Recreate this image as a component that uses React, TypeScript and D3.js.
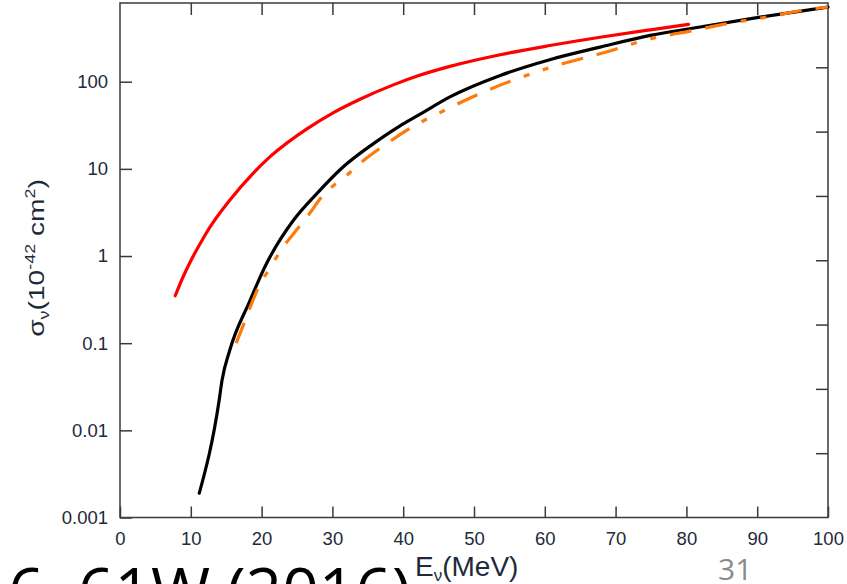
import React, { useEffect, useRef } from "react";
import * as d3 from "d3";

// Axis ticks
const energyTicks = [0, 10, 20, 30, 40, 50, 60, 70, 80, 90, 100];
const sigmaTicks = [0.001, 0.01, 0.1, 1, 10, 100];
const sigmaTickLabels = ["0.001", "0.01", "0.1", "1", "10", "100"];
const rightTicks = [1, 2, 3, 4, 5, 6, 7];

// Cross sections, sigma in 1e-42 cm^2 versus neutrino energy in MeV
const redEnergy = [7.8, 8.9, 9.9, 11.8, 12.7, 15.5, 18.8, 21.2, 26.4, 30.1, 33.9, 38.6, 42.1, 46.6, 53.7, 60.7, 67.8, 74.9, 80.3];
const redSigma = [0.35, 0.575, 0.85, 1.62, 2.14, 4.37, 8.9, 13.8, 28.8, 44, 63, 92, 117, 150, 204, 260, 324, 394, 454];

const blackEnergy = [11.2, 14.0, 14.4, 15.5, 18.3, 20.7, 21.2, 24.5, 27.8, 31.5, 35.8, 39.5, 42.1, 46.6, 53.7, 60.7, 67.8, 74.9, 80.0, 90.4, 100];
const blackSigma = [0.0019, 0.022, 0.037, 0.083, 0.3, 0.82, 0.98, 2.57, 5.2, 10.5, 19.5, 31, 41, 67, 118, 179, 249, 340, 400, 550, 717];

const orangeEnergy = [16.4, 17.65, 18.4, 19.8, 21.2, 22.7, 24.7, 26.4, 28.7, 32.0, 34.4, 37.7, 41.2, 46.1, 50.8, 57.4, 61.7, 68.7, 74.4, 81.0, 85.2, 91.3, 97.9, 100];
const orangeSigma = [0.1, 0.18, 0.26, 0.48, 0.73, 1.16, 1.89, 2.8, 5.0, 8.4, 12.5, 19.5, 30, 48, 73, 118, 154, 219, 303, 387, 454, 551, 687, 720];

const W = 847;
const H = 584;
const plot = { left: 120, right: 828, top: 3, bottom: 517.5 };
const tickFont = "'Liberation Sans', Arial, sans-serif";

export default function App() {
  const ref = useRef<SVGSVGElement>(null);

  useEffect(() => {
    const svg = d3.select(ref.current);
    svg.selectAll("*").remove();

    const x = d3.scaleLinear().domain([0, 100]).range([plot.left, plot.right]);
    const y = d3.scaleLog().domain([0.001, 800]).range([plot.bottom, plot.top]);
    const yRight = d3.scaleLinear().domain([0, 8]).range([plot.bottom, plot.top]);

    svg.append("rect").attr("width", W).attr("height", H).attr("fill", "#fff");

    const styleAxis = (g: d3.Selection<SVGGElement, unknown, null, undefined>) => {
      g.select(".domain").remove();
      g.selectAll(".tick line").attr("stroke", "#3a3a3a").attr("stroke-width", 1.5);
      g.selectAll(".tick text")
        .attr("fill", "#1e2a3a")
        .attr("font-family", tickFont)
        .attr("font-size", 18.5);
    };

    // bottom axis with labels
    svg.append("g")
      .attr("transform", `translate(0,${plot.bottom})`)
      .call(
        d3.axisBottom(x).tickValues(energyTicks).tickSizeInner(-11).tickSizeOuter(0).tickPadding(14.5)
      )
      .call(styleAxis);

    // left axis with labels
    svg.append("g")
      .attr("transform", `translate(${plot.left},0)`)
      .call(
        d3.axisLeft(y)
          .tickValues(sigmaTicks)
          .tickFormat((_d, i) => sigmaTickLabels[i])
          .tickSizeInner(-12)
          .tickSizeOuter(0)
          .tickPadding(12)
      )
      .call(styleAxis);

    // top axis, ticks only
    svg.append("g")
      .attr("transform", `translate(0,${plot.top})`)
      .call(d3.axisTop(x).tickValues(energyTicks.slice(1, -1)).tickSizeInner(-12).tickSizeOuter(0).tickFormat(() => ""))
      .call(styleAxis);

    // right axis, ticks only
    svg.append("g")
      .attr("transform", `translate(${plot.right},0)`)
      .call(d3.axisRight(yRight).tickValues(rightTicks).tickSizeInner(-12).tickSizeOuter(0).tickFormat(() => ""))
      .call(styleAxis);

    // frame
    svg.append("rect")
      .attr("x", plot.left)
      .attr("y", plot.top)
      .attr("width", plot.right - plot.left)
      .attr("height", plot.bottom - plot.top)
      .attr("fill", "none")
      .attr("stroke", "#3a3a3a")
      .attr("stroke-width", 1.5);

    const line = d3
      .line<[number, number]>()
      .x((d) => x(d[0]))
      .y((d) => y(d[1]))
      .curve(d3.curveMonotoneX);

    const series = [
      { e: blackEnergy, s: blackSigma, color: "#000000", dash: null },
      { e: orangeEnergy, s: orangeSigma, color: "#ff7a0a", dash: "22,14,22,14,6,14,6,14" },
      { e: redEnergy, s: redSigma, color: "#ff0000", dash: null },
    ];
    series.forEach((sr) => {
      const pts = sr.e.map((e, i) => [e, sr.s[i]] as [number, number]);
      const p = svg.append("path")
        .attr("d", line(pts))
        .attr("fill", "none")
        .attr("stroke", sr.color)
        .attr("stroke-width", 3.2)
        .attr("stroke-linecap", "round")
        .attr("stroke-linejoin", "round");
      if (sr.dash) p.attr("stroke-dasharray", sr.dash).attr("stroke-linecap", "butt");
    });

    // x-axis title
    const xt = svg.append("text")
      .attr("x", 415)
      .attr("y", 576)
      .attr("font-family", tickFont)
      .attr("font-size", 28)
      .attr("fill", "#1e2a3a");
    xt.append("tspan").text("E");
    xt.append("tspan").attr("font-size", 17).attr("dy", 5).text("ν");
    xt.append("tspan").attr("dy", -5).text("(MeV)");

    // y-axis title
    const yt = svg.append("text")
      .attr("transform", "translate(44,258) rotate(-90) scale(1.28,1)")
      .attr("text-anchor", "middle")
      .attr("font-family", tickFont)
      .attr("font-size", 22)
      .attr("fill", "#1e2a3a");
    yt.append("tspan").text("σ");
    yt.append("tspan").attr("font-size", 14).attr("dy", 5).text("ν");
    yt.append("tspan").attr("dy", -5).text("(10");
    yt.append("tspan").attr("font-size", 14).attr("dy", -9).text("-42");
    yt.append("tspan").attr("dy", 9).text(" cm");
    yt.append("tspan").attr("font-size", 14).attr("dy", -9).text("2");
    yt.append("tspan").attr("dy", 9).text(")");

    // citation line, partly cut off at the bottom edge
    svg.append("text")
      .attr("x", 8)
      .attr("y", 614)
      .attr("font-family", "'Open Sans', sans-serif")
      .attr("font-size", 64)
      .attr("fill", "#000")
      .text("6, 61W (2016)");

    // slide number
    svg.append("text")
      .attr("x", 718)
      .attr("y", 580)
      .attr("font-family", "'Open Sans', sans-serif")
      .attr("font-size", 30)
      .attr("fill", "#8a8a8a")
      .text("31");
  }, []);

  return (
    <svg
      ref={ref}
      width={W}
      height={H}
      style={{ position: "absolute", left: 0, top: 0, display: "block" }}
    />
  );
}
